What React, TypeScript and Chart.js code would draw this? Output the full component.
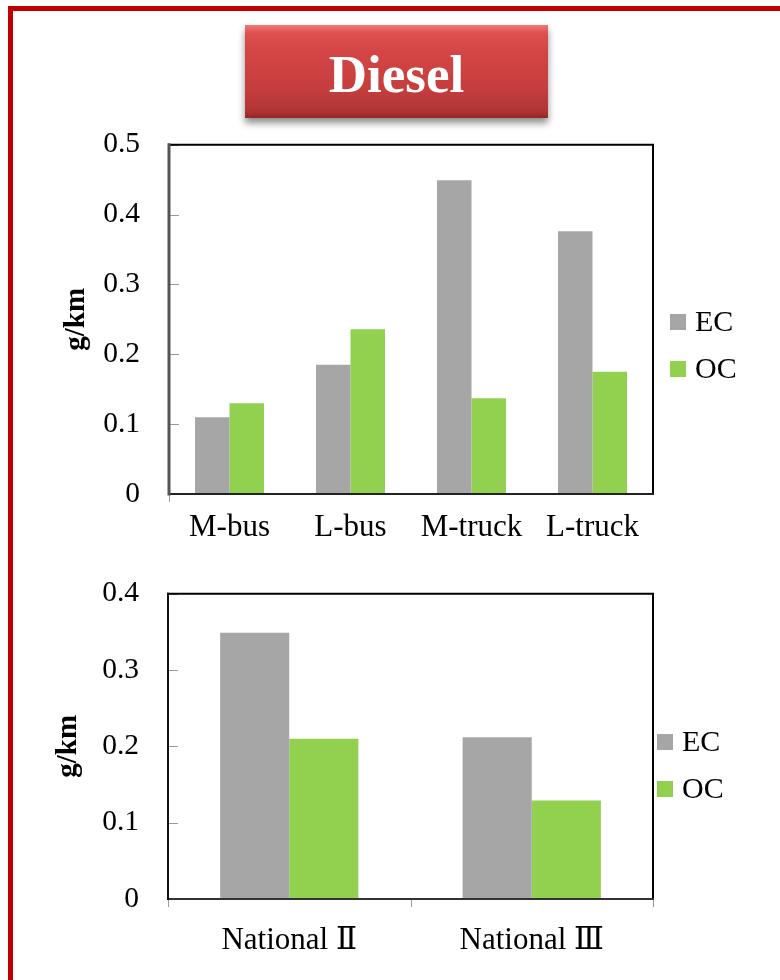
import React, { useEffect, useRef } from "react";
import { Chart, registerables } from "chart.js";
Chart.register(...registerables);

const FONT = "'Liberation Serif', 'Times New Roman', 'DejaVu Serif', serif";

const topCategories = ["M-bus", "L-bus", "M-truck", "L-truck"];
const topEC = [0.11, 0.185, 0.449, 0.376];
const topOC = [0.13, 0.236, 0.137, 0.175];
const topMax = 0.5;

const bottomCategories = ["National Ⅱ", "National Ⅲ"];
const bottomEC = [0.349, 0.212];
const bottomOC = [0.21, 0.129];
const bottomMax = 0.4;

const seriesNames = ["EC", "OC"];
const seriesColors = ["#a6a6a6", "#92d050"];
const yTitle = "g/km";
const headline = "Diesel";

const framePlugin = {
  id: "frame",
  afterDatasetsDraw(chart: any, _args: any, opts: any) {
    const { ctx, chartArea: a } = chart;
    const ys = chart.scales.y;
    ctx.save();
    ctx.strokeStyle = "#9a9a9a";
    ctx.lineWidth = 1;
    ys.ticks.forEach((_t: any, i: number) => {
      const py = Math.round(ys.getPixelForTick(i)) + 0.5;
      ctx.beginPath();
      ctx.moveTo(a.left, py);
      ctx.lineTo(a.left + 10, py);
      ctx.stroke();
    });
    const n = chart.data.labels.length;
    const ks: number[] = [];
    if (opts.allXTicks) {
      for (let k = 0; k <= n; k++) ks.push(k);
    } else ks.push(0);
    ks.forEach((k) => {
      const px = Math.round(a.left + ((a.right - a.left) * k) / n) + 0.5;
      ctx.beginPath();
      ctx.moveTo(px, a.bottom);
      ctx.lineTo(px, a.bottom + opts.xTickLen);
      ctx.stroke();
    });
    ctx.lineCap = "square";
    ctx.strokeStyle = "#000";
    ctx.lineWidth = 2;
    ctx.beginPath();
    ctx.moveTo(a.left, a.top);
    ctx.lineTo(a.right, a.top);
    ctx.lineTo(a.right, a.bottom);
    ctx.stroke();
    ctx.strokeStyle = opts.bottomColor;
    ctx.beginPath();
    ctx.moveTo(a.left, a.bottom);
    ctx.lineTo(a.right, a.bottom);
    ctx.stroke();
    ctx.strokeStyle = opts.leftColor;
    ctx.lineWidth = opts.leftWidth;
    ctx.beginPath();
    ctx.moveTo(a.left, a.top);
    ctx.lineTo(a.left, a.bottom);
    ctx.stroke();
    ctx.restore();
  },
  afterDraw(chart: any, _args: any, opts: any) {
    const { ctx } = chart;
    const lg = opts.legend;
    ctx.save();
    ctx.font = `30px ${FONT}`;
    ctx.textBaseline = "middle";
    ctx.textAlign = "left";
    chart.data.datasets.forEach((ds: any, i: number) => {
      const cy = lg.y + i * lg.gap - chart.canvas.offsetTop;
      ctx.fillStyle = ds.backgroundColor;
      ctx.fillRect(lg.x, cy - 8, 16, 16);
      ctx.fillStyle = "#000";
      ctx.fillText(ds.label, lg.x + 25, cy + 1);
    });
    ctx.restore();
  },
};

type Cfg = {
  labels: string[];
  ec: number[];
  oc: number[];
  max: number;
  padTop: number;
  padRight: number;
  yWidth: number;
  xHeight: number;
  xPad: number;
  titlePad: number;
  frame: any;
};

function BarPanel({ top, height, cfg }: { top: number; height: number; cfg: Cfg }) {
  const ref = useRef<HTMLCanvasElement | null>(null);
  useEffect(() => {
    if (!ref.current) return;
    const chart = new Chart(ref.current, {
      type: "bar",
      data: {
        labels: cfg.labels,
        datasets: [
          { label: seriesNames[0], data: cfg.ec, backgroundColor: seriesColors[0], categoryPercentage: 0.57, barPercentage: 1 },
          { label: seriesNames[1], data: cfg.oc, backgroundColor: seriesColors[1], categoryPercentage: 0.57, barPercentage: 1 },
        ],
      },
      plugins: [framePlugin],
      options: {
        animation: false,
        responsive: false,
        devicePixelRatio: 1,
        layout: { padding: { top: cfg.padTop, right: cfg.padRight, left: 0, bottom: 0 } },
        plugins: {
          legend: { display: false },
          tooltip: { enabled: false },
          frame: cfg.frame,
        } as any,
        scales: {
          x: {
            grid: { display: false, drawTicks: false },
            border: { display: false },
            ticks: { font: { family: FONT, size: 31 }, color: "#000", padding: cfg.xPad, maxRotation: 0, autoSkip: false },
            afterFit: (s: any) => {
              s.height = cfg.xHeight;
            },
          },
          y: {
            min: 0,
            max: cfg.max,
            grid: { display: false, drawTicks: false },
            border: { display: false },
            ticks: {
              stepSize: 0.1,
              font: { family: FONT, size: 29.5 },
              color: "#000",
              padding: 29,
              callback: (v: any) => (Number(v) === 0 ? "0" : Number(v).toFixed(1)),
            },
            title: {
              display: true,
              text: yTitle,
              color: "#000",
              font: { family: FONT, size: 29, weight: "bold" },
              padding: { top: cfg.titlePad, bottom: 0 },
            },
            afterFit: (s: any) => {
              s.width = cfg.yWidth;
            },
          },
        },
      } as any,
    });
    return () => chart.destroy();
  }, []);
  return (
    <canvas
      ref={ref}
      width={780}
      height={height}
      style={{ position: "absolute", left: 0, top, width: 780, height }}
    />
  );
}

const topCfg: Cfg = {
  labels: topCategories,
  ec: topEC,
  oc: topOC,
  max: topMax,
  padTop: 0,
  padRight: 127,
  yWidth: 169,
  xHeight: 66,
  xPad: 15,
  titlePad: 59,
  frame: { allXTicks: false, xTickLen: 8, leftColor: "#555", leftWidth: 3, bottomColor: "#222", legend: { x: 670, y: 322, gap: 47 } },
};

const bottomCfg: Cfg = {
  labels: bottomCategories,
  ec: bottomEC,
  oc: bottomOC,
  max: bottomMax,
  padTop: 0,
  padRight: 127,
  yWidth: 168,
  xHeight: 81,
  xPad: 23,
  titlePad: 51,
  frame: { allXTicks: true, xTickLen: 8, leftColor: "#111", leftWidth: 2, bottomColor: "#333", legend: { x: 657, y: 742, gap: 47 } },
};

export default function App() {
  return (
    <div style={{ position: "absolute", left: 0, top: 0, width: 780, height: 980, overflow: "hidden", background: "#fff" }}>
      <div
        style={{
          position: "absolute",
          left: 8,
          top: 6,
          width: 900,
          height: 1100,
          border: "5px solid #c00000",
          boxSizing: "border-box",
        }}
      />
      <BarPanel top={98} height={462} cfg={topCfg} />
      <BarPanel top={547} height={433} cfg={bottomCfg} />
      <div
        style={{
          position: "absolute",
          left: 245,
          top: 25,
          width: 303,
          height: 93,
          background: "linear-gradient(#e25555 0%, #d44545 30%, #c53d3d 70%, #a93333 100%)",
          boxShadow:
            "0 5px 7px rgba(0,0,0,0.45), inset 0 7px 5px -3px rgba(255,150,150,0.55), inset 0 -6px 5px -3px rgba(110,10,10,0.35)",
          color: "#fff",
          fontFamily: FONT,
          fontWeight: "bold",
          fontSize: 53,
          lineHeight: "93px",
          paddingTop: 3,
          boxSizing: "border-box",
          textAlign: "center",
        }}
      >
        {headline}
      </div>
    </div>
  );
}
